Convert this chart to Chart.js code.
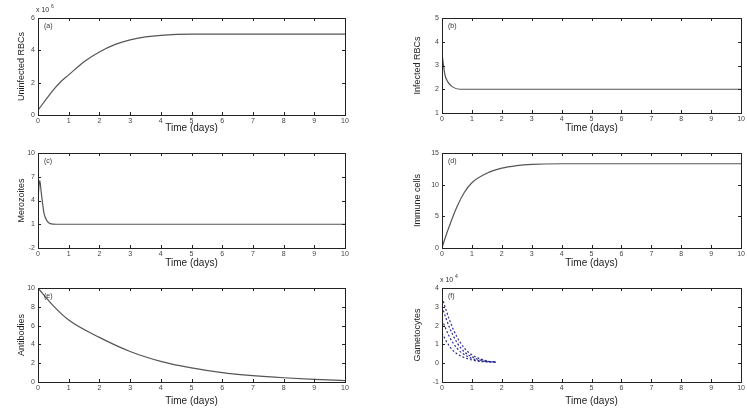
<!DOCTYPE html>
<html>
<head>
<meta charset="utf-8">
<script src="https://cdn.jsdelivr.net/npm/chart.js@4/dist/chart.umd.min.js"></script>
<style>
body{margin:0;background:#fff;width:747px;height:408px;overflow:hidden;position:relative}
.p{position:absolute}
</style>
</head>
<body>
<div class="p" style="left:0;top:0;width:373px;height:135px"><canvas id="c1"></canvas></div>
<div class="p" style="left:380px;top:0;width:367px;height:135px"><canvas id="c2"></canvas></div>
<div class="p" style="left:0;top:135px;width:373px;height:135px"><canvas id="c3"></canvas></div>
<div class="p" style="left:380px;top:135px;width:367px;height:135px"><canvas id="c4"></canvas></div>
<div class="p" style="left:0;top:270px;width:373px;height:138px"><canvas id="c5"></canvas></div>
<div class="p" style="left:380px;top:270px;width:367px;height:138px"><canvas id="c6"></canvas></div>
<script>
// values
const tRbc = [0, 0.25, 0.5, 0.75, 1, 1.5, 2, 2.5, 3, 3.5, 4, 5, 6, 7, 8, 9, 10];
const uninfectedRbc = [0.3, 0.93, 1.55, 2.07, 2.48, 3.3, 3.9, 4.35, 4.65, 4.83, 4.93, 5.0, 5.0, 5.0, 5.0, 5.0, 5.0];

const tInf = [0, 0.05, 0.1, 0.2, 0.35, 0.6, 1, 10];
const infectedRbc = [3.5, 3.0, 2.6, 2.3, 2.1, 2.0, 2.0, 2.0];

const tMero = [0, 0.03, 0.06, 0.1, 0.15, 0.2, 0.3, 0.4, 0.6, 1, 10];
const merozoites = [4, 5.8, 6.5, 5.2, 3.6, 2.3, 1.4, 1.08, 1.0, 1.0, 1.0];

const tImm = [0, 0.1, 0.25, 0.5, 0.75, 1, 1.5, 2, 2.5, 3, 4, 10];
const immuneCells = [0, 1.5, 3.5, 6.5, 8.8, 10.3, 11.8, 12.6, 13.0, 13.2, 13.3, 13.3];

const tAb = [0, 0.5, 1, 2, 3, 4, 5, 6, 7, 8, 9, 10];
const antibodies = [10, 8.1, 6.6, 4.75, 3.25, 2.2, 1.5, 1.0, 0.68, 0.45, 0.28, 0.15];

const tGam = [0, 0.25, 0.5, 0.75, 1, 1.25, 1.5, 1.8];
const gametocytes = [
  [3.5, 2.3, 1.4, 0.8, 0.45, 0.25, 0.12, 0.06],
  [3.0, 1.9, 1.1, 0.6, 0.35, 0.18, 0.1, 0.06],
  [2.3, 1.4, 0.8, 0.45, 0.25, 0.14, 0.08, 0.06],
  [1.6, 0.9, 0.5, 0.3, 0.17, 0.1, 0.07, 0.06]
];

const xTicks = {min: 0, max: 10, step: 1};

function pts(t, v) { return t.map((x, i) => ({x: x, y: v[i]})); }

const frame = {
  id: 'frame',
  afterDatasetsDraw(chart) {
    const {ctx, chartArea: a, scales} = chart;
    const o = chart.options.plugins.frame;
    ctx.save();
    ctx.strokeStyle = '#222';
    ctx.lineWidth = 1;
    ctx.strokeRect(Math.round(a.left) + 0.5, Math.round(a.top) + 0.5, Math.round(a.right - a.left), Math.round(a.bottom - a.top));
    ctx.beginPath();
    scales.x.ticks.forEach(t => {
      const px = Math.round(scales.x.getPixelForValue(t.value)) + 0.5;
      ctx.moveTo(px, a.bottom); ctx.lineTo(px, a.bottom - 3);
      ctx.moveTo(px, a.top); ctx.lineTo(px, a.top + 3);
    });
    scales.y.ticks.forEach(t => {
      const py = Math.round(scales.y.getPixelForValue(t.value)) + 0.5;
      ctx.moveTo(a.left, py); ctx.lineTo(a.left + 3, py);
      ctx.moveTo(a.right, py); ctx.lineTo(a.right - 3, py);
    });
    ctx.stroke();
    ctx.fillStyle = '#333';
    ctx.font = '7px "Liberation Sans", Arial, sans-serif';
    ctx.textBaseline = 'middle';
    ctx.fillText(o.label, a.left + 6, a.top + 8);
    if (o.exp) {
      ctx.fillText('x 10', a.left - 2, a.top - 8);
      ctx.font = '5px "Liberation Sans", Arial, sans-serif';
      ctx.fillText(o.exp, a.left + 13, a.top - 11);
    }
    ctx.restore();
  }
};

function panel(id, cfg) {
  const font = '"Liberation Sans", Arial, sans-serif';
  new Chart(document.getElementById(id), {
    type: 'line',
    data: {datasets: cfg.sets},
    plugins: [frame],
    options: {
      responsive: true,
      maintainAspectRatio: false,
      animation: false,
      layout: {padding: {left: cfg.padLeft, right: cfg.padRight, top: 18, bottom: 0}},
      plugins: {legend: {display: false}, tooltip: {enabled: false}, frame: {label: cfg.label, exp: cfg.exp}},
      elements: {point: {radius: 0}, line: {borderWidth: 1.2, cubicInterpolationMode: 'monotone'}},
      scales: {
        x: {
          type: 'linear', min: xTicks.min, max: xTicks.max,
          afterFit: s => { s.height = cfg.xH; },
          grid: {display: false, drawTicks: false},
          border: {display: false},
          ticks: {stepSize: xTicks.step, padding: 2, color: '#444', font: {size: 7, family: font}, maxRotation: 0},
          title: {display: true, text: 'Time (days)', color: '#222', font: {size: 10, family: font}, padding: {top: 0, bottom: 1}}
        },
        y: {
          min: cfg.yMin, max: cfg.yMax,
          afterFit: s => { s.width = cfg.yW; },
          grid: {display: false, drawTicks: false},
          border: {display: false},
          ticks: {stepSize: cfg.yStep, padding: 3, color: '#444', font: {size: 7, family: font}},
          title: {display: true, text: cfg.yTitle, color: '#222', font: {size: 9, family: font}, padding: 0}
        }
      }
    }
  });
}

const gray = '#555';
const blue = '#2a2a8c';

panel('c1', {label: '(a)', exp: '6', yTitle: 'Uninfected RBCs', yMin: 0, yMax: 6, yStep: 2, padLeft: 16, padRight: 28, yW: 22, xH: 20,
  sets: [{data: pts(tRbc, uninfectedRbc), borderColor: gray}]});
panel('c2', {label: '(b)', yTitle: 'Infected RBCs', yMin: 1, yMax: 5, yStep: 1, padLeft: 32, padRight: 4, yW: 30, xH: 22,
  sets: [{data: pts(tInf, infectedRbc), borderColor: gray}]});
panel('c3', {label: '(c)', yTitle: 'Merozoites', yMin: -2, yMax: 10, yStep: 3, padLeft: 16, padRight: 28, yW: 22, xH: 22,
  sets: [{data: pts(tMero, merozoites), borderColor: gray}]});
panel('c4', {label: '(d)', yTitle: 'Immune cells', yMin: 0, yMax: 15, yStep: 5, padLeft: 32, padRight: 4, yW: 30, xH: 22,
  sets: [{data: pts(tImm, immuneCells), borderColor: gray}]});
panel('c5', {label: '(e)', yTitle: 'Antibodies', yMin: 0, yMax: 10, yStep: 2, padLeft: 16, padRight: 28, yW: 22, xH: 26,
  sets: [{data: pts(tAb, antibodies), borderColor: gray}]});
panel('c6', {label: '(f)', exp: '4', yTitle: 'Gametocytes', yMin: -1, yMax: 4, yStep: 1, padLeft: 32, padRight: 4, yW: 30, xH: 26,
  sets: gametocytes.map(g => ({data: pts(tGam, g), borderColor: blue, borderDash: [2, 2]}))});
</script>
</body>
</html>
